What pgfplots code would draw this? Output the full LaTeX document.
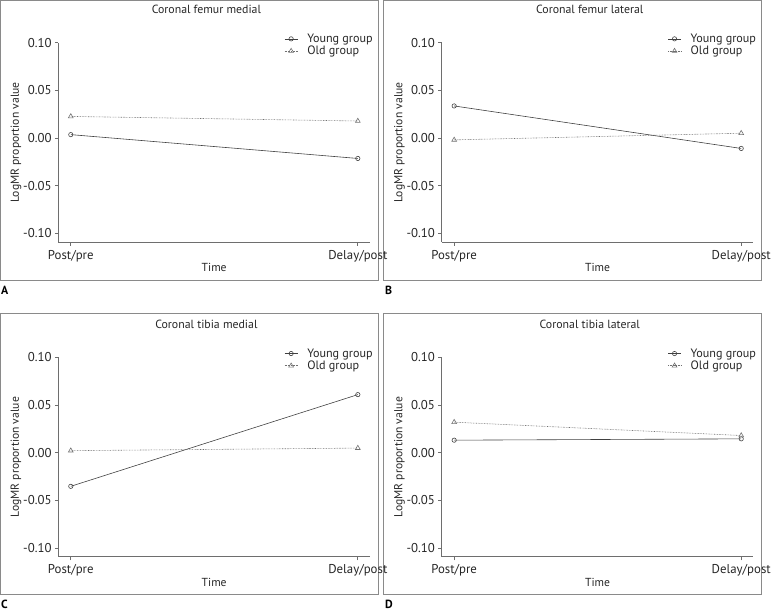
\documentclass[border=0pt]{standalone}
\usepackage{pgfplots}
\pgfplotsset{compat=1.18}
\usepackage{fontspec}
\setmainfont{PT Sans}
\definecolor{boxgray}{HTML}{8A8A8A}
\definecolor{axgray}{HTML}{6E6E6E}
\definecolor{young}{HTML}{404040}
\definecolor{old}{HTML}{707070}
\pgfplotsset{
  panel/.style={
    scale only axis,
    width=316bp, height=202.4bp,
    xmin=-0.043, xmax=1.042,
    ymin=-0.1093, ymax=0.1,
    axis x line*=bottom, axis y line*=left,
    axis line style={axgray, line width=0.8bp},
    every tick/.style={axgray, line width=0.8bp},
    tick align=outside,
    major tick length=3.5bp,
    xtick={0,1}, xticklabels={Post/pre, Delay/post},
    ytick={-0.1,-0.05,0,0.05,0.1},
    yticklabels={-0.10,-0.05,0.00,0.05,0.10},
    ticklabel style={font=\fontsize{13bp}{15bp}\selectfont, text=black!85},
    xticklabel style={yshift=-1bp},
    xlabel={Time},
    ylabel={LogMR proportion value},
    label style={font=\fontsize{11.8bp}{13bp}\selectfont, text=black!85},
    xlabel style={at={(axis description cs:0.5,-0.128)}, anchor=center},
    ylabel style={at={(axis description cs:-0.136,0.5)}, anchor=center},
    title style={at={(axis description cs:0.475,1.136)}, anchor=center,
      font=\fontsize{12bp}{13bp}\selectfont, text=black!85},
    legend style={at={(axis description cs:0.725,1.048)}, anchor=north west,
      draw=none, fill=none, inner sep=0pt, row sep=1bp,
      font=\fontsize{12.3bp}{13bp}\selectfont, text=black!85,
      nodes={inner sep=0.6bp}},
    legend cell align=left,
    legend image code/.code={\path (0bp,0bp) (22bp,0bp);\draw[mark repeat=2,mark phase=2,#1] plot coordinates {(0bp,0bp) (6.5bp,0bp) (13bp,0bp)};},
    clip=false,
  },
  ystyle/.style={young, line width=0.6bp, solid, mark=o, mark size=2.2bp, mark options={solid, fill=white}},
  ostyle/.style={old, line width=0.6bp, dash pattern=on 0.7bp off 0.9bp, mark=triangle, mark size=2.8bp, mark options={solid, fill=white}},
}
\begin{document}
\begin{tikzpicture}[x=1bp,y=1bp]
\path (0,0) rectangle (774,619);
% panel boxes
\draw[boxgray, line width=1bp] (1,618) rectangle (384,334);
\draw[boxgray, line width=1bp] (389.5,618) rectangle (772.5,334);
\draw[boxgray, line width=1bp] (1,301) rectangle (384,15.5);
\draw[boxgray, line width=1bp] (389.5,301) rectangle (772.5,15.5);
% panel letters
\node[anchor=west, inner sep=0pt, font=\fontsize{12bp}{13bp}\selectfont\bfseries] at (1,324) {A};
\node[anchor=west, inner sep=0pt, font=\fontsize{12bp}{13bp}\selectfont\bfseries] at (390.5,324) {B};
\node[anchor=west, inner sep=0pt, font=\fontsize{12bp}{13bp}\selectfont\bfseries] at (1,6) {C};
\node[anchor=west, inner sep=0pt, font=\fontsize{12bp}{13bp}\selectfont\bfseries] at (390.5,6) {D};

% A
\begin{axis}[panel, at={(59.3bp,373.3bp)}, anchor=south west, title={Coronal femur medial}]
\addplot[ystyle] coordinates {(0,0.0035) (1,-0.0215)};
\addlegendentry{Young group}
\addplot[ostyle] coordinates {(0,0.0226) (1,0.0178)};
\addlegendentry{Old group}
\end{axis}

% B
\begin{axis}[panel, at={(448.3bp,373.3bp)}, anchor=south west, title={Coronal femur lateral}]
\addplot[ystyle] coordinates {(0,0.0336) (1,-0.0110)};
\addlegendentry{Young group}
\addplot[ostyle] coordinates {(0,-0.0020) (1,0.0050)};
\addlegendentry{Old group}
\end{axis}

% C
\begin{axis}[panel, at={(59.3bp,54bp)}, anchor=south west, title={Coronal tibia medial}]
\addplot[ystyle] coordinates {(0,-0.0353) (1,0.0609)};
\addlegendentry{Young group}
\addplot[ostyle] coordinates {(0,0.0021) (1,0.0048)};
\addlegendentry{Old group}
\end{axis}

% D
\begin{axis}[panel, at={(448.3bp,54bp)}, anchor=south west, title={Coronal tibia lateral}]
\addplot[ystyle] coordinates {(0,0.0131) (1,0.0145)};
\addlegendentry{Young group}
\addplot[ostyle] coordinates {(0,0.0320) (1,0.0180)};
\addlegendentry{Old group}
\end{axis}
\end{tikzpicture}
\end{document}
